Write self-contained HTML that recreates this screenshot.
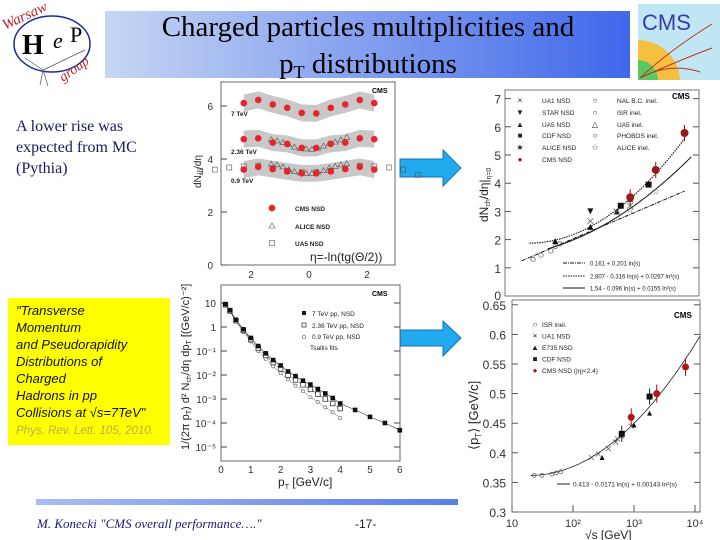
<!DOCTYPE html>
<html><head><meta charset="utf-8"><style>
html,body{margin:0;padding:0;background:#fff;}
svg{display:block;font-family:"Liberation Sans",sans-serif;}
</style></head><body>
<svg id="s" width="720" height="540" viewBox="0 0 720 540" xmlns="http://www.w3.org/2000/svg">
<defs>
<linearGradient id="bg1" x1="0" x2="1"><stop offset="0" stop-color="#c6d6f2"/><stop offset="1" stop-color="#3f67ea"/></linearGradient>
<linearGradient id="bg2" x1="0" x2="1"><stop offset="0" stop-color="#a9bdf2"/><stop offset="1" stop-color="#5a7ee8"/></linearGradient>
</defs>
<g>
<rect x="105" y="11" width="525" height="67" fill="url(#bg1)"/>
<text x="368" y="36" text-anchor="middle" font-family="Liberation Serif,serif" font-size="29" fill="#000">Charged particles multiplicities and</text>
<text x="368" y="73" text-anchor="middle" font-family="Liberation Serif,serif" font-size="29" fill="#000">p<tspan font-size="18" dy="5">T</tspan><tspan dy="-5"> distributions</tspan></text>
</g>
<g>
<ellipse cx="52" cy="44" rx="38" ry="28" fill="#fff" stroke="#1a2a9a" stroke-width="1.5"/>
<text x="22" y="54" font-family="Liberation Serif,serif" font-size="28" font-weight="bold">H</text>
<text x="53" y="48" font-family="Liberation Serif,serif" font-size="22" font-style="italic">e</text>
<text x="70" y="42" font-family="Liberation Serif,serif" font-size="22">P</text>
<text x="5" y="30" font-family="Liberation Serif,serif" font-style="italic" font-size="15" fill="#c0202a" transform="rotate(-25 5 30)">Warsaw</text>
<text x="63" y="82" font-family="Liberation Serif,serif" font-style="italic" font-size="14" fill="#c0202a" transform="rotate(-35 63 82)">group</text>
<line x1="43" y1="70" x2="85" y2="50" stroke="#555" stroke-width="0.7"/>
<line x1="43" y1="70" x2="25" y2="58" stroke="#555" stroke-width="0.7"/>
<line x1="43" y1="70" x2="40" y2="85" stroke="#555" stroke-width="0.7"/>
<line x1="43" y1="70" x2="48" y2="86" stroke="#555" stroke-width="0.7"/>
</g>
<g>
<rect x="638" y="4" width="82" height="76" fill="#bfe6f2"/>
<path d="M638 80 L638 40 A42 42 0 0 1 680 80 Z" fill="#f5c040"/>
<path d="M638 80 L638 60 A20 20 0 0 1 658 80 Z" fill="#5cc860"/>
<path d="M640 78 Q670 50 712 24 M640 78 Q680 60 712 48 M640 78 Q670 62 700 72" stroke="#c03020" fill="none" stroke-width="1"/>
<text x="642" y="30" font-size="22" fill="#3a3ab0">CMS</text>
</g>
<text x="16" y="131" font-family="Liberation Serif,serif" font-size="16" fill="#1a1a5a">A lower rise was</text>
<text x="16" y="152" font-family="Liberation Serif,serif" font-size="16" fill="#1a1a5a">expected from MC</text>
<text x="16" y="173" font-family="Liberation Serif,serif" font-size="16" fill="#1a1a5a">(Pythia)</text>
<g font-style="italic" font-size="13" fill="#111">
<rect x="8" y="298" width="162" height="147" fill="#ffff00"/>
<text x="16" y="315">"Transverse</text>
<text x="16" y="332">Momentum</text>
<text x="16" y="349">and Pseudorapidity</text>
<text x="16" y="366">Distributions of</text>
<text x="16" y="383">Charged</text>
<text x="16" y="400">Hadrons in pp</text>
<text x="16" y="417">Collisions at √s=7TeV"</text>
<text x="16" y="434" font-size="11.5" fill="#b8ad4a">Phys. Rev. Lett. 105, 2010.</text>
</g>
<path d="M400 159 H443 V150 L461 168 L443 186 V177 H400 Z" fill="#22aaee" stroke="#1a70b0"/>
<path d="M400 330 H443 V321 L461 338 L443 356 V346 H400 Z" fill="#22aaee" stroke="#1a70b0"/>
<rect x="36" y="499" width="422" height="6" fill="url(#bg2)"/>
<text x="37" y="528" font-family="Liberation Serif,serif" font-style="italic" font-size="13" fill="#1a1a7a">M. Konecki   "CMS overall performance…."</text>
<text x="355" y="528" font-size="12" fill="#222">-17-</text>
<g id="c1"></g>
<g id="c2"></g>
<g id="c3"></g>
<g id="c4"></g>
</svg>
<script>
const etaBins=[-2.25,-1.75,-1.25,-0.75,-0.25,0.25,0.75,1.25,1.75,2.25];
const dn7=[6.11,6.23,6.06,5.93,5.74,5.72,5.93,6.06,6.23,6.11];
const dn236=[4.75,4.78,4.62,4.57,4.42,4.42,4.57,4.62,4.78,4.75];
const dn09=[3.6,3.7,3.62,3.53,3.46,3.46,3.53,3.62,3.7,3.6];
const aliceEta=[-1.3,-1.1,-0.9,-0.7,-0.5,-0.3,-0.1,0.1,0.3,0.5,0.7,0.9,1.1,1.3];
const alice236=[4.73,4.68,4.62,4.55,4.45,4.40,4.38,4.36,4.41,4.49,4.58,4.64,4.72,4.82];
const alice09=[3.80,3.78,3.7,3.6,3.52,3.48,3.45,3.46,3.5,3.56,3.66,3.72,3.78,3.82];
const ua5Eta=[-3.75,-3.25,-2.75,-2.25,-1.75,-1.25,-0.75,-0.25,0.25,0.75,1.25,1.75,2.25,2.75,3.25,3.75];
const ua509=[3.55,3.6,3.68,3.72,3.75,3.65,3.55,3.5,3.5,3.55,3.65,3.75,3.72,3.68,3.6,3.4];
const c1Ticks=[0,2,4,6];
const NS="http://www.w3.org/2000/svg";
function el(p,t,a,txt){const e=document.createElementNS(NS,t);for(const k in a)e.setAttribute(k,a[k]);if(txt!==undefined)e.textContent=txt;p.appendChild(e);return e;}
(function(){
 const g=document.getElementById('c1');
 const X=v=>309+v*29, Y=v=>265-v*26.5;
 const bg=el(g,'rect',{x:180,y:80,width:215,height:195,fill:'#fff'});
 
 
 const fr=el(g,'rect',{x:221,y:82,width:174,height:183,fill:'none',stroke:'#444','stroke-width':0.8});
 
 
 c1Ticks.forEach(t=>{const tx=el(g,'text',{x:213,y:Y(t)+4,'font-size':10,'text-anchor':'end',fill:'#333'},t);
  
  
  el(g,'line',{x1:221,x2:227,y1:Y(t),y2:Y(t),stroke:'#444'});});
 [-2,0,2].forEach(t=>{const tx=el(g,'text',{x:X(t),y:278,'font-size':10,'text-anchor':'middle',fill:'#333'},Math.abs(t));
  
  });
 [[dn7,'7 TeV',116],[dn236,'2.36 TeV',154],[dn09,'0.9 TeV',183]].forEach(([arr,lab,ly])=>{
  let up='',dn='';
  etaBins.forEach((e,i)=>{up+=(i?'L':'M')+X(e)+' '+Y(arr[i]+0.32);});
  for(let i=etaBins.length-1;i>=0;i--)dn+='L'+X(etaBins[i])+' '+Y(arr[i]-0.32);
  const b=el(g,'path',{d:up+dn+'Z',fill:'#c8c8c8'});
  
  
  const t=el(g,'text',{x:231,y:ly,'font-size':6.5,'font-weight':'bold',fill:'#222'},lab);
  
  
 });
 [[aliceEta,alice236],[aliceEta,alice09]].forEach(([xs,ys])=>xs.forEach((e,i)=>{
  const x=X(e),y=Y(ys[i]);const p=el(g,'path',{d:`M${x} ${y-3}L${x+3} ${y+2}L${x-3} ${y+2}Z`,fill:'none',stroke:'#555','stroke-width':0.6});
  
  }));
 ua5Eta.forEach((e,i)=>{const r=el(g,'rect',{x:X(e)-2.5,y:Y(ua509[i])-2.5,width:5,height:5,fill:'none',stroke:'#555','stroke-width':0.6});
  
  });
 [dn7,dn236,dn09].forEach(arr=>etaBins.forEach((e,i)=>{const c=el(g,'circle',{cx:X(e),cy:Y(arr[i]),r:3.3,fill:'#e8242a'});
  
  }));
 const lg=[['CMS NSD',208,'c'],['ALICE NSD',226,'t'],['UA5 NSD',243,'s']];
 lg.forEach(([l,y,k])=>{
  if(k=='c')el(g,'circle',{cx:272,cy:y,r:3.3,fill:'#e8242a'});
  if(k=='t')el(g,'path',{d:`M272 ${y-3}L275 ${y+2}L269 ${y+2}Z`,fill:'none',stroke:'#555','stroke-width':0.6});
  if(k=='s')el(g,'rect',{x:269.5,y:y-2.5,width:5,height:5,fill:'none',stroke:'#555','stroke-width':0.6});
  const t=el(g,'text',{x:295,y:y+3,'font-size':6.5,'font-weight':'bold',fill:'#222'},l);
  
  });
 el(g,'text',{x:372,y:93,'font-size':7,'font-weight':'bold'},'CMS');
 const yl=el(g,'text',{x:201,y:188,'font-size':10,transform:'rotate(-90 201 188)',fill:'#222'},'dN');
 el(yl,'tspan',{'font-size':6,dy:2},'ch');el(yl,'tspan',{dy:-2},'/dη');
 
 
 el(g,'rect',{x:307,y:248,width:86,height:16,fill:'#fff'});
 const xl=el(g,'text',{x:310,y:261,'font-size':12,fill:'#222'},'η=-ln(tg(Θ/2))');
 
 
})();

const c2Ticks=[1,2,3,4,5,6,7];
const cmsE=[900,2360,7000];const cmsDn=[3.5,4.47,5.78];
const ua1E=[200,540,900];const ua1Dn=[2.65,3.0,3.2];
const starE=[200];const starDn=[3.0];
const ua5E=[53,200,546,900];const ua5Dn=[1.95,2.45,3.0,3.45];
const cdfE=[630,1800];const cdfDn=[3.2,3.95];
const aliceE=[900,2360];const aliceDn=[3.05,3.7];
const isrE=[23,31,45,53,63];const isrDn=[1.3,1.45,1.6,1.75,1.85];
(function(){
 const g=document.getElementById('c2');
 const X=v=>511+(Math.log10(v)-1)*61, Y=v=>296-v*28.2;
 const fr=el(g,'rect',{x:505,y:90,width:194,height:206,fill:'#fff',stroke:'#555','stroke-width':0.8});
 
 
 c2Ticks.forEach(t=>{const tx=el(g,'text',{x:501,y:Y(t)+5,'font-size':12,'text-anchor':'end',fill:'#333'},t);
  
  
  el(g,'line',{x1:505,x2:511,y1:Y(t),y2:Y(t),stroke:'#555'});el(g,'line',{x1:693,x2:699,y1:Y(t),y2:Y(t),stroke:'#555'});});
 el(g,'text',{x:501,y:300,'font-size':12,'text-anchor':'end',fill:'#333'},'0');
 const curve=(f,a,b,attrs)=>{let d='';for(let i=0;i<=60;i++){const e=a*Math.pow(b/a,i/60);const L=Math.log(e*e);d+=(i?'L':'M')+X(e).toFixed(1)+' '+Y(f(L)).toFixed(1);}return el(g,'path',Object.assign({d,fill:'none',stroke:'#111'},attrs));};
 const f1=L=>0.161+0.201*L, f2=L=>2.807-0.316*L+0.0267*L*L, f3=L=>1.54-0.096*L+0.0155*L*L;
 curve(f1,15,7000,{'stroke-dasharray':'4 1 1 1','stroke-width':1});
 curve(f2,20,7000,{'stroke-dasharray':'1.5 1','stroke-width':1.1});
 curve(f3,40,9000,{'stroke-width':1});
 const pt=(xs,ys,kind,name)=>xs.forEach((e,i)=>{const x=X(e),y=Y(ys[i]);let m;
  if(kind=='x')m=el(g,'path',{d:`M${x-3} ${y-3}L${x+3} ${y+3}M${x-3} ${y+3}L${x+3} ${y-3}`,stroke:'#555','stroke-width':0.7});
  else if(kind=='v')m=el(g,'path',{d:`M${x-3} ${y-3}L${x+3} ${y-3}L${x} ${y+3}Z`,fill:'#111'});
  else if(kind=='^')m=el(g,'path',{d:`M${x-3} ${y+3}L${x+3} ${y+3}L${x} ${y-3}Z`,fill:'#111'});
  else if(kind=='s')m=el(g,'rect',{x:x-3,y:y-3,width:6,height:6,fill:'#111'});
  else if(kind=='star')m=el(g,'text',{x:x,y:y+3,'font-size':9,'text-anchor':'middle',fill:'#555'},'☆');
  else if(kind=='o')m=el(g,'circle',{cx:x,cy:y,r:2.2,fill:'none',stroke:'#555','stroke-width':0.7});
  else {el(g,'line',{x1:x,x2:x,y1:y-8,y2:y+8,stroke:'#a00'});m=el(g,'circle',{cx:x,cy:y,r:4,fill:'#9a1a1a'});}
  
  });
 pt(isrE,isrDn,'o','isr-point');pt(ua5E,ua5Dn,'^','ua5-point');pt(ua1E,ua1Dn,'x','ua1-point');
 pt(starE,starDn,'v','star-point');pt(cdfE,cdfDn,'s','cdf-point');pt(aliceE,aliceDn,'star','alice-point');pt(cmsE,cmsDn,'cms','cms-point');
 const leg=[['UA1 NSD',520,100],['STAR NSD',520,112],['UA5 NSD',520,124],['CDF NSD',520,135],['ALICE NSD',520,147],['CMS NSD',520,159],
  ['NAL B.C. inel.',595,100],['ISR inel.',595,112],['UA5 inel.',595,124],['PHOBOS inel.',595,135],['ALICE inel.',595,147]];
 const sym=['×','▼','▲','■','★','●','○','○','△','○','☆'];
 leg.forEach(([l,x,y],i)=>{el(g,'text',{x:x,y:y+3,'font-size':8,'text-anchor':'middle',fill:i==5?'#9a1a1a':'#222'},sym[i]);
  const t=el(g,'text',{x:x+22,y:y+3,'font-size':6.5,fill:'#222'},l);
  
  });
 el(g,'text',{x:672,y:99,'font-size':8,'font-weight':'bold'},'CMS');
 [['0.161 + 0.201 ln(s)',263,'4 1 1 1'],['2.807 - 0.316 ln(s) + 0.0267 ln²(s)',276,'1.5 1'],['1.54 - 0.096 ln(s) + 0.0155 ln²(s)',288,'']].forEach(([l,y,da])=>{
  el(g,'line',{x1:563,x2:585,y1:y,y2:y,stroke:'#111','stroke-dasharray':da,'stroke-width':1});
  const t=el(g,'text',{x:590,y:y+2.5,'font-size':6,fill:'#222'},l);
  
  });
 const yl=el(g,'text',{x:488,y:222,'font-size':12,transform:'rotate(-90 488 222)',fill:'#222'},'dN');
 el(yl,'tspan',{'font-size':7,dy:2},'ch');el(yl,'tspan',{dy:-2},'/dη|');el(yl,'tspan',{'font-size':7,dy:3},'η=0');
 
 
})();

const c3YTicks=[0.3,0.35,0.4,0.45,0.5,0.55,0.6,0.65];
const c3XTicks=[10,100,1000,10000];
const c3XLabels=['10','10²','10³','10⁴'];
const isrPtE=[23,31,45,53,63];const isrPt=[0.362,0.362,0.364,0.366,0.368];
const ua1PtE=[200,260,380,500,540,630,900];const ua1Pt=[0.392,0.398,0.407,0.418,0.423,0.428,0.445];
const e735E=[300,1000,1800];const e735Pt=[0.392,0.447,0.467];
const cdfPtE=[630,1800];const cdfPt=[0.432,0.495];
const cmsPtE=[900,2360,7000];const cmsPt=[0.46,0.50,0.545];
(function(){
 const g=document.getElementById('c3');
 const X=v=>512+(Math.log10(v)-1)*61, Y=v=>512-(v-0.3)/0.05*29.6;
 const fr=el(g,'rect',{x:512,y:300,width:188,height:212,fill:'#fff',stroke:'#555','stroke-width':0.8});
 
 
 c3YTicks.forEach(t=>{const tx=el(g,'text',{x:506,y:Y(t)+5,'font-size':12,'text-anchor':'end',fill:'#333'},t);
  
  
  el(g,'line',{x1:512,x2:518,y1:Y(t),y2:Y(t),stroke:'#555'});el(g,'line',{x1:694,x2:700,y1:Y(t),y2:Y(t),stroke:'#555'});});
 c3XTicks.forEach((t,i)=>{const tx=el(g,'text',{x:X(t),y:527,'font-size':11,'text-anchor':'middle',fill:'#333'},c3XLabels[i]);
  
  
  el(g,'line',{x1:X(t),x2:X(t),y1:512,y2:505,stroke:'#555'});});
 let d='';for(let i=0;i<=60;i++){const e=20*Math.pow(12000/20,i/60);const L=Math.log(e*e);d+=(i?'L':'M')+X(e).toFixed(1)+' '+Y(0.413-0.0171*L+0.00143*L*L).toFixed(1);}
 const cv=el(g,'path',{d,fill:'none',stroke:'#222','stroke-width':0.8});
 
 
 const pt=(xs,ys,kind,name)=>xs.forEach((e,i)=>{const x=X(e),y=Y(ys[i]);let m;
  if(kind=='x')m=el(g,'path',{d:`M${x-2.5} ${y-2.5}L${x+2.5} ${y+2.5}M${x-2.5} ${y+2.5}L${x+2.5} ${y-2.5}`,stroke:'#555','stroke-width':0.7});
  else if(kind=='^')m=el(g,'path',{d:`M${x-2.5} ${y+2.5}L${x+2.5} ${y+2.5}L${x} ${y-2.5}Z`,fill:'#111'});
  else if(kind=='s'){el(g,'line',{x1:x,x2:x,y1:y-8,y2:y+8,stroke:'#222'});m=el(g,'rect',{x:x-3,y:y-3,width:6,height:6,fill:'#111'});}
  else if(kind=='o')m=el(g,'circle',{cx:x,cy:y,r:2,fill:'none',stroke:'#555','stroke-width':0.7});
  else {el(g,'line',{x1:x,x2:x,y1:y-9,y2:y+9,stroke:'#b00'});m=el(g,'circle',{cx:x,cy:y,r:3.5,fill:'#b01818'});}
  
  });
 pt(isrPtE,isrPt,'o','isr-point');pt(ua1PtE,ua1Pt,'x','ua1-point');pt(e735E,e735Pt,'^','e735-point');pt(cdfPtE,cdfPt,'s','cdf-point');pt(cmsPtE,cmsPt,'cms','cms-point');
 [['ISR inel.','○','#222'],['UA1 NSD','×','#222'],['E735 NSD','▲','#222'],['CDF NSD','■','#222'],['CMS NSD (|η|<2.4)','●','#b01818']].forEach(([l,s,c],i)=>{
  const y=324+i*11.5;el(g,'text',{x:535,y:y+3,'font-size':8,'text-anchor':'middle',fill:c},s);
  const t=el(g,'text',{x:542,y:y+3,'font-size':6.5,fill:'#222'},l);
  
  });
 el(g,'text',{x:674,y:318,'font-size':8,'font-weight':'bold'},'CMS');
 el(g,'line',{x1:557,x2:570,y1:484,y2:484,stroke:'#222'});
 el(g,'text',{x:573,y:486.5,'font-size':6.5,fill:'#222'},'0.413 - 0.0171 ln(s) + 0.00143 ln²(s)');
 const yl=el(g,'text',{x:478,y:450,'font-size':13,transform:'rotate(-90 478 450)',fill:'#222'},'⟨p');
 el(yl,'tspan',{'font-size':8,dy:3},'T');el(yl,'tspan',{dy:-3},'⟩ [GeV/c]');
 
 
 const xl=el(g,'text',{x:585,y:539,'font-size':12,fill:'#222'},'√s [GeV]');
 
 
})();

const c4YExp=[1,0,-1,-2,-3,-4,-5];
const c4YLabels=['10','1','10⁻¹','10⁻²','10⁻³','10⁻⁴','10⁻⁵'];
const c4XTicks=[0,1,2,3,4,5,6];
const pt7=[0.15,0.3,0.5,0.75,1,1.25,1.5,1.75,2,2.25,2.5,2.75,3,3.25,3.5,3.75,4,4.5,5,5.5,6];
const y7=[9,5,2,0.8,0.35,0.16,0.08,0.042,0.025,0.014,0.009,0.0058,0.004,0.0026,0.0017,0.0011,0.00065,0.00035,0.00018,0.0001,0.00005];
const pt236=[0.15,0.3,0.5,0.75,1,1.25,1.5,1.75,2,2.25,2.5,2.75,3,3.25,3.5,3.75,4];
const y236=[8.5,4.7,1.85,0.72,0.3,0.13,0.065,0.033,0.018,0.01,0.0062,0.0039,0.0025,0.0016,0.001,0.00065,0.0004];
const pt09=[0.15,0.3,0.5,0.75,1,1.25,1.5,1.75,2,2.25,2.5,2.75,3,3.25,3.5,3.75,4];
const y09=[8,4.3,1.65,0.62,0.25,0.1,0.047,0.023,0.012,0.0065,0.0036,0.0021,0.0012,0.00075,0.00045,0.00028,0.00016];
(function(){
 const g=document.getElementById('c4');
 const X=v=>221+v*29.8, Y=v=>327-Math.log10(v)*24;
 const fr=el(g,'rect',{x:221,y:285,width:179,height:176,fill:'#fff',stroke:'#444','stroke-width':0.8});
 
 
 c4YExp.forEach((e,i)=>{const y=Y(Math.pow(10,e));const tx=el(g,'text',{x:216,y:y+4,'font-size':10,'text-anchor':'end',fill:'#333'},c4YLabels[i]);
  
  
  el(g,'line',{x1:221,x2:227,y1:y,y2:y,stroke:'#444'});el(g,'line',{x1:394,x2:400,y1:y,y2:y,stroke:'#444'});});
 c4XTicks.forEach(t=>{const tx=el(g,'text',{x:X(t),y:473,'font-size':10,'text-anchor':'middle',fill:'#333'},t);
  
  });
 const line=(xs,ys,da)=>{let d='';xs.forEach((x,i)=>d+=(i?'L':'M')+X(x).toFixed(1)+' '+Y(ys[i]).toFixed(1));return el(g,'path',{d,fill:'none',stroke:'#333','stroke-width':0.6,'stroke-dasharray':da});};
 line(pt7,y7,'');line(pt236,y236,'3 1');line(pt09,y09,'1 1');
 pt09.forEach((x,i)=>{const c=el(g,'circle',{cx:X(x),cy:Y(y09[i]),r:1.6,fill:'#fff',stroke:'#555','stroke-width':0.6});
  
  });
 pt236.forEach((x,i)=>{const r=el(g,'rect',{x:X(x)-2.3,y:Y(y236[i])-2.3,width:4.6,height:4.6,fill:'#fff',stroke:'#222','stroke-width':0.7});
  
  });
 pt7.forEach((x,i)=>{const r=el(g,'rect',{x:X(x)-2.3,y:Y(y7[i])-2.3,width:4.6,height:4.6,fill:'#111'});
  
  });
 el(g,'rect',{x:302,y:311,width:4,height:4,fill:'#111'});
 el(g,'rect',{x:302,y:323,width:4,height:4,fill:'#fff',stroke:'#222','stroke-width':0.7});
 el(g,'circle',{cx:304,cy:337,r:1.6,fill:'#fff',stroke:'#555','stroke-width':0.6});
 [['7 TeV pp, NSD',316],['2.36 TeV pp, NSD',328],['0.9 TeV pp, NSD',339],['Tsallis fits',350]].forEach(([l,y],i)=>{
  const t=el(g,'text',{x:i==3?310:312,y:y,'font-size':6.5,fill:'#222'},l);
  
  });
 el(g,'text',{x:372,y:296,'font-size':7,'font-weight':'bold'},'CMS');
 const yl=el(g,'text',{x:189,y:450,'font-size':11,transform:'rotate(-90 189 450)',fill:'#222'},'1/(2π p');
 el(yl,'tspan',{'font-size':7,dy:2},'T');el(yl,'tspan',{dy:-2},') d² N');el(yl,'tspan',{'font-size':7,dy:2},'ch');el(yl,'tspan',{dy:-2},'/dη dp');el(yl,'tspan',{'font-size':7,dy:2},'T');el(yl,'tspan',{dy:-2},' [(GeV/c)⁻²]');
 
 
 const xl=el(g,'text',{x:278,y:486,'font-size':12,fill:'#222'},'p');
 el(xl,'tspan',{'font-size':7,dy:3},'T');el(xl,'tspan',{dy:-3},' [GeV/c]');
 
 
})();
</script>
</body></html>
